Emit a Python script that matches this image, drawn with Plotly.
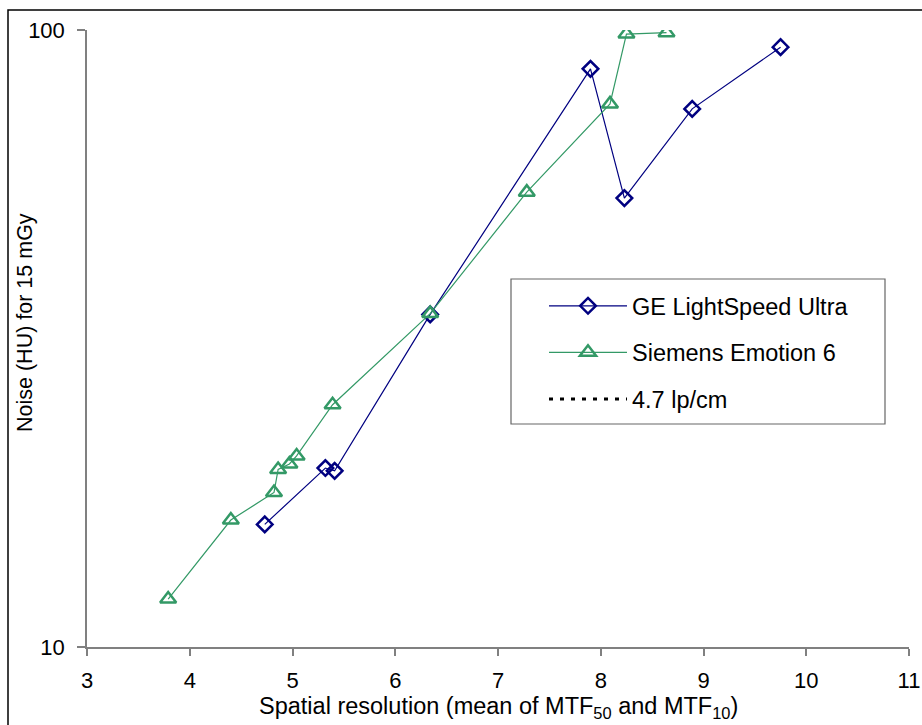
import plotly.graph_objects as go

# ---- data ----
ge_x = [4.73, 5.32, 5.41, 6.34, 7.90, 8.23, 8.89, 9.75]
ge_y = [15.8, 19.5, 19.3, 34.6, 86.5, 53.4, 74.5, 93.8]

si_x = [3.79, 4.40, 4.82, 4.86, 4.97, 5.04, 5.39, 6.34, 7.28, 8.09, 8.25, 8.64]
si_y = [11.96, 16.06, 17.8, 19.4, 19.8, 20.4, 24.7, 34.7, 54.6, 75.9, 98.5, 99.0]

ref_x = [4.7, 4.7]
ref_y = [9.0, 9.889]

series_names = ["GE LightSpeed Ultra", "Siemens Emotion 6", "4.7 lp/cm"]
x_ticks = [3, 4, 5, 6, 7, 8, 9, 10, 11]
y_ticks = [10, 100]

NAVY = "#000080"
GREEN = "#339966"
FONT = "Liberation Sans, Arial, sans-serif"

fig = go.Figure()
fig.add_trace(go.Scatter(
    x=ge_x, y=ge_y, name=series_names[0], mode="lines+markers", legendgroup="a",
    line=dict(color=NAVY, width=1.2),
    marker=dict(symbol="diamond-open", size=12, color=NAVY, line=dict(width=2.5, color=NAVY)),
))
fig.add_trace(go.Scatter(
    x=si_x, y=si_y, name=series_names[1], mode="lines+markers", legendgroup="b",
    line=dict(color=GREEN, width=1.2),
    marker=dict(symbol="triangle-up-open", size=14, color=GREEN, line=dict(width=2.5, color=GREEN)),
))
fig.add_trace(go.Scatter(
    x=ref_x, y=ref_y, name=series_names[2], mode="lines", legendgroup="c",
    line=dict(color="black", width=3, dash="4px,7px"),
))
fig.add_trace(go.Scatter(
    x=ref_x[1:], y=ref_y[1:], mode="markers", showlegend=False, cliponaxis=False,
    marker=dict(symbol="square", size=4, color="black", line=dict(width=0)),
))

fig.update_layout(
    width=922, height=725,
    margin=dict(l=87, r=13, t=30, b=78),
    paper_bgcolor="white", plot_bgcolor="white",
    font=dict(family=FONT, size=22, color="black"),
    showlegend=True,
    legend=dict(
        x=(544 - 87) / 822, y=(647 - 284) / 617, xanchor="left", yanchor="top",
        bgcolor="rgba(0,0,0,0)", borderwidth=0,
        font=dict(family=FONT, size=23.5, color="black"),
        itemwidth=78, traceorder="grouped", tracegroupgap=13,
    ),
    xaxis=dict(
        range=[3, 11], tickvals=x_ticks, showgrid=False, zeroline=False, automargin=False,
        showline=True, linecolor="#808080", linewidth=1.5,
        ticks="outside", ticklen=7, tickcolor="#808080", tickwidth=1.5,
        ticklabelstandoff=6,
        tickfont=dict(family=FONT, size=22, color="black"),
    ),
    yaxis=dict(
        type="log", range=[1, 2], tickvals=y_ticks, ticktext=[str(v) for v in y_ticks],
        showgrid=False, zeroline=False, automargin=False,
        showline=True, linecolor="#808080", linewidth=1.5,
        ticks="outside", ticklen=8, tickcolor="#808080", tickwidth=1.5,
        ticklabelstandoff=8,
        tickfont=dict(family=FONT, size=22, color="black"),
    ),
    shapes=[
        # outer chart frame
        dict(type="rect", xref="paper", yref="paper",
             x0=(8 - 87) / 822, x1=2.0, y0=-0.5, y1=(647 - 10) / 617,
             line=dict(color="black", width=1.5), layer="below"),
        # legend box
        dict(type="rect", xref="paper", yref="paper",
             x0=(511 - 87) / 822, x1=(885 - 87) / 822,
             y0=(647 - 424) / 617, y1=(647 - 279) / 617,
             line=dict(color="#666666", width=1.2), layer="below"),
    ],
    annotations=[
        dict(text="Spatial resolution (mean of MTF<sub>50</sub> and MTF<sub>10</sub>)",
             xref="paper", yref="paper", x=0.5, y=(647 - 707) / 617,
             xanchor="center", yanchor="middle", showarrow=False,
             font=dict(family=FONT, size=23.5, color="black")),
        dict(text="Noise (HU) for 15 mGy",
             xref="paper", yref="paper", x=(25 - 87) / 822, y=(647 - 323) / 617,
             xanchor="center", yanchor="middle", showarrow=False, textangle=-90,
             font=dict(family=FONT, size=21.5, color="black")),
    ],
)

fig.write_html("out.html")
